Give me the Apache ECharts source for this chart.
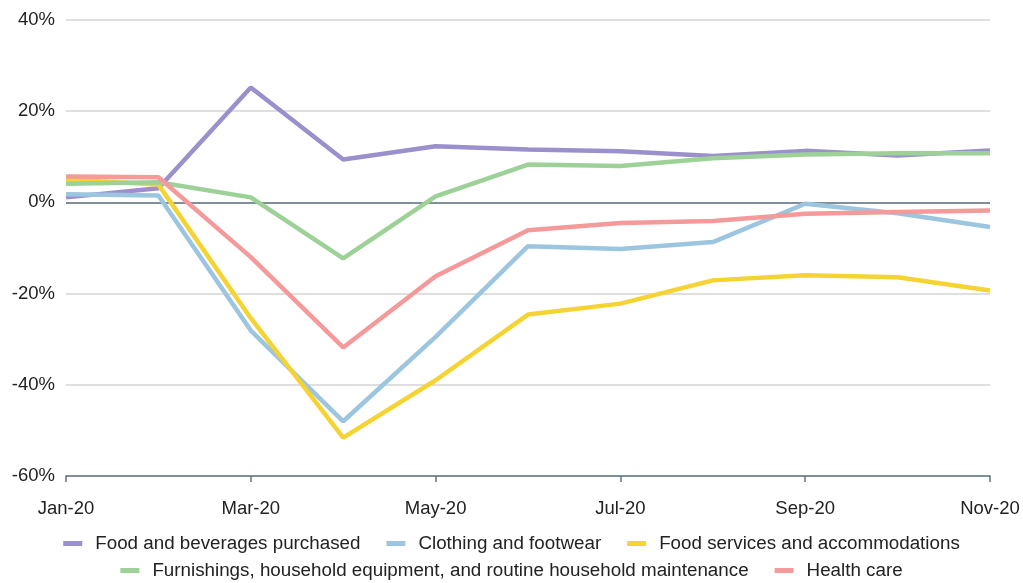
<!DOCTYPE html>
<html>
<head>
<meta charset="utf-8">
<script src="https://cdn.jsdelivr.net/npm/echarts@6/dist/echarts.min.js"></script>
<style>html,body{margin:0;padding:0;background:#fff}#c{width:1023px;height:583px}</style>
</head>
<body>
<div id="c"></div>
<script>
const categories = ['Jan-20','Feb-20','Mar-20','Apr-20','May-20','Jun-20','Jul-20','Aug-20','Sep-20','Oct-20','Nov-20'];
const foodBeverages = [1.1, 3.1, 25.2, 9.4, 12.3, 11.6, 11.2, 10.2, 11.3, 10.3, 11.4];
const clothing = [1.8, 1.5, -28.1, -48.0, -29.5, -9.6, -10.2, -8.7, -0.3, -2.4, -5.4];
const foodServices = [5.0, 3.9, -25.4, -51.6, -39.0, -24.6, -22.2, -17.1, -16.0, -16.4, -19.3];
const furnishings = [4.1, 4.4, 1.1, -12.3, 1.3, 8.3, 8.0, 9.7, 10.5, 10.8, 10.8];
const healthCare = [5.7, 5.5, -12.0, -31.8, -16.2, -6.1, -4.5, -4.1, -2.5, -2.1, -1.8];
const seriesNames = ['Food and beverages purchased','Clothing and footwear','Food services and accommodations','Furnishings, household equipment, and routine household maintenance','Health care'];
const colors = ['#9b90cb','#9cc5df','#f5d332','#9dd197','#f59a9a'];
const yTicks = {min: -60, max: 40, interval: 20};

const allData = [foodBeverages, clothing, foodServices, furnishings, healthCare];
const chart = echarts.init(document.getElementById('c'));
const font = "'Liberation Sans', Arial, Helvetica, sans-serif";
const legendBase = {left: 'center', itemWidth: 19, itemHeight: 5, itemGap: 26, icon: 'rect',
  textStyle: {fontSize: 18.8, color: '#222', fontFamily: font, padding: [0, 0, 0, 8]}};
chart.setOption({
  animation: false,
  textStyle: {fontFamily: font},
  grid: {left: 66, right: 33, top: 20, bottom: 107, containLabel: false},
  legend: [
    Object.assign({}, legendBase, {data: seriesNames.slice(0,3), top: 529}),
    Object.assign({}, legendBase, {data: seriesNames.slice(3), top: 556})
  ],
  xAxis: {
    type: 'category', data: categories, boundaryGap: false,
    axisLine: {onZero: false, lineStyle: {color: '#5f7584', width: 1.5}},
    axisTick: {show: true, interval: 1, length: 6, lineStyle: {color: '#5f7584', width: 1.5}},
    axisLabel: {interval: 1, fontSize: 18.5, color: '#222', margin: 23, fontFamily: font},
    splitLine: {show: false}
  },
  yAxis: {
    type: 'value', min: yTicks.min, max: yTicks.max, interval: yTicks.interval,
    axisLine: {show: false}, axisTick: {show: false},
    axisLabel: {formatter: '{value}%', fontSize: 18.5, color: '#222', margin: 11, fontFamily: font},
    splitLine: {lineStyle: {color: '#d4d4d4', width: 1.5}}
  },
  series: allData.map((d, i) => ({
    name: seriesNames[i], type: 'line', data: d, showSymbol: false, symbol: 'none',
    lineStyle: {width: 4.5, color: colors[i]}, itemStyle: {color: colors[i]},
    z: 3 + i,
    markLine: i === 0 ? {silent: true, symbol: 'none', label: {show: false},
      lineStyle: {color: '#5f7584', width: 1.5, type: 'solid'}, data: [{yAxis: 0}], z: 1} : undefined
  }))
});
</script>
</body>
</html>
